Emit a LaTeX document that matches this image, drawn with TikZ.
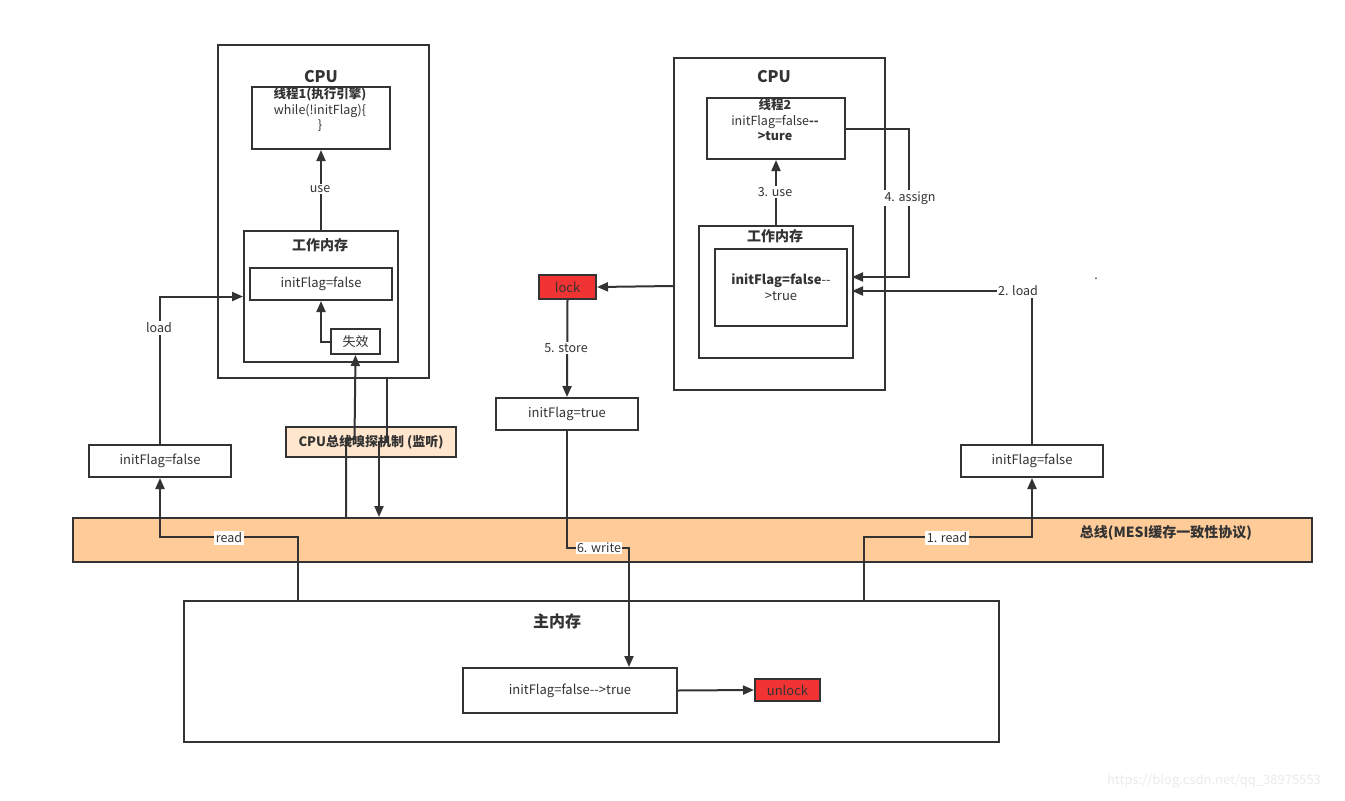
\documentclass[tikz,border=0pt]{standalone}
\usepackage{fontspec}
\setmainfont{Noto Sans CJK SC}
\usetikzlibrary{arrows.meta}
\definecolor{lc}{HTML}{333333}
\definecolor{busc}{HTML}{FFCC99}
\definecolor{snoopc}{HTML}{FFE6CC}
\definecolor{redc}{HTML}{F23333}
\newcommand\fsz[2]{\fontsize{#1pt}{#2pt}\selectfont}
\tikzset{
  ln/.style={draw=lc, line width=2pt},
  arr/.style={ln, -{Triangle[length=11pt,width=9pt]}},
  box/.style={draw=lc, line width=2pt, fill=white, inner sep=0pt, align=center,
    anchor=north west, text=lc, font=\fsz{13}{16}},
  title/.style={text=lc, inner sep=0pt, font=\fsz{16}{18}\bfseries},
  lbl/.style={fill=white, text=lc, inner sep=1.5pt, font=\fsz{12.5}{15}},
  txt/.style={text=lc, inner sep=0pt, align=center, font=\fsz{12.5}{15.5}}
}
\begin{document}
\begin{tikzpicture}[x=1pt,y=-1pt]
\useasboundingbox[fill=white] (0,0) rectangle (1345,801);

% ---- left CPU
\node[box, minimum width=211pt, minimum height=333pt] (cpu1) at (217,44) {};
\node[title] (cpu1t) at (321,77) {CPU};
\node[box, minimum width=138pt, minimum height=62pt] (t1) at (251,86) {};
\node[txt, anchor=north] (t1x) at (320,88) {\textbf{线程1(执行引擎)}\\while(!initFlag)\{\\\}};
\node[box, minimum width=154pt, minimum height=131pt] (wm1) at (243,230) {};
\node[title, font=\fsz{14}{16}\bfseries] (wm1t) at (320,245) {工作内存};
\node[box, minimum width=142pt, minimum height=32pt] (f1) at (249,267) {initFlag=false};
\node[box, minimum width=49pt, minimum height=25pt] (sx) at (330,328) {失效};

% ---- right CPU
\node[box, minimum width=211pt, minimum height=332pt] (cpu2) at (673,57) {};
\node[title] (cpu2t) at (774,77) {CPU};
\node[box, minimum width=138pt, minimum height=61pt] (t2) at (706,97) {};
\node[txt, anchor=north] (t2x) at (775,99) {\textbf{线程2}\\initFlag=false\textbf{-{}-}\\\textbf{>ture}};
\node[box, minimum width=154pt, minimum height=132pt] (wm2) at (698,225) {};
\node[title, font=\fsz{14}{16}\bfseries] (wm2t) at (775,236) {工作内存};
\node[box, minimum width=132pt, minimum height=77pt, font=\fsz{13}{16}] (f2) at (714,248) {\textbf{initFlag=false}-{}-\\>true};

% ---- middle boxes
\node[box, minimum width=57pt, minimum height=24pt, fill=redc] (lk) at (538,274) {lock};
\node[box, minimum width=142pt, minimum height=32pt] (tf) at (495,397) {initFlag=true};
\node[box, minimum width=142pt, minimum height=32pt] (lf) at (88,444) {initFlag=false};
\node[box, minimum width=142pt, minimum height=32pt] (rf) at (960,444) {initFlag=false};
\node[box, minimum width=170pt, minimum height=30pt, fill=snoopc, font=\fsz{13}{16}\bfseries] (sn) at (285,426) {CPU总线嗅探机制 (监听)};

% ---- bus
\node[box, minimum width=1239pt, minimum height=44pt, fill=busc] (bus) at (72,517) {};
\node[title, font=\fsz{14}{16}\bfseries] (bust) at (1166,533) {总线(MESI缓存一致性协议)};

% ---- main memory
\node[box, minimum width=815pt, minimum height=141pt] (mm) at (183,600) {};
\node[title] (mmt) at (557,621) {主内存};
\node[box, minimum width=214pt, minimum height=45pt] (mf) at (462,667) {initFlag=false-{}->true};
\node[box, minimum width=65pt, minimum height=22pt, fill=redc] (ul) at (754,678) {unlock};

% ---- coordinates on borders
\coordinate (b1) at (346,517);
\coordinate (b2) at (379,517);
\coordinate (c1) at (387,377);
\coordinate (c2) at (673,286);
\coordinate (m1) at (298,600);
\coordinate (m2) at (864,600);
\coordinate (m3) at (629,667);
\coordinate (a4) at (852,277);
\coordinate (a2) at (852,291);

% ---- connectors
\draw[arr] (wm1.north) -- (t1.south);
\draw[arr] (sx.west) -| (f1.south);
\draw[arr] (lf.north) |- (wm1.west);
\draw[arr] (m1) -- (298,537) -| (lf.south);
\draw[arr] (b1) -- (346,439) -- (354.5,439) -- (sx.south);
\draw[arr] (c1) -- (387,442) -- (379,442) -- (b2);

\draw[arr] (wm2.north) -- (t2.south);
\draw[arr] (t2.east) -| (909,277) -- (a4);
\draw[arr] (rf.north) |- (a2);
\draw[arr] (m2) -- (864,537) -| (rf.south);
\draw[arr] (c2) -- (lk.east);
\draw[arr] (lk.south) -- (tf.north);
\draw[arr] (tf.south) |- (629,548) -- (m3);
\draw[arr] (mf.east) -- (ul.west);

% ---- labels
\node[lbl] (l1) at (320,189) {use};
\node[lbl] (l2) at (159,328) {load};
\node[lbl] (l3) at (229,538) {read};
\node[lbl] (l4) at (775,192) {3. use};
\node[lbl] (l5) at (910,198) {4. assign};
\node[lbl] (l6) at (1018,291) {2. load};
\node[lbl] (l7) at (947,538) {1. read};
\node[lbl] (l8) at (566,348) {5. store};
\node[lbl] (l9) at (599,548) {6. write};
\node[txt] (dot) at (1096,279) {.};
\node[txt, text=black!8, font=\fsz{13}{15}] (wmk) at (1214,781) {https://blog.csdn.net/qq\_38975553};
\end{tikzpicture}
\end{document}
